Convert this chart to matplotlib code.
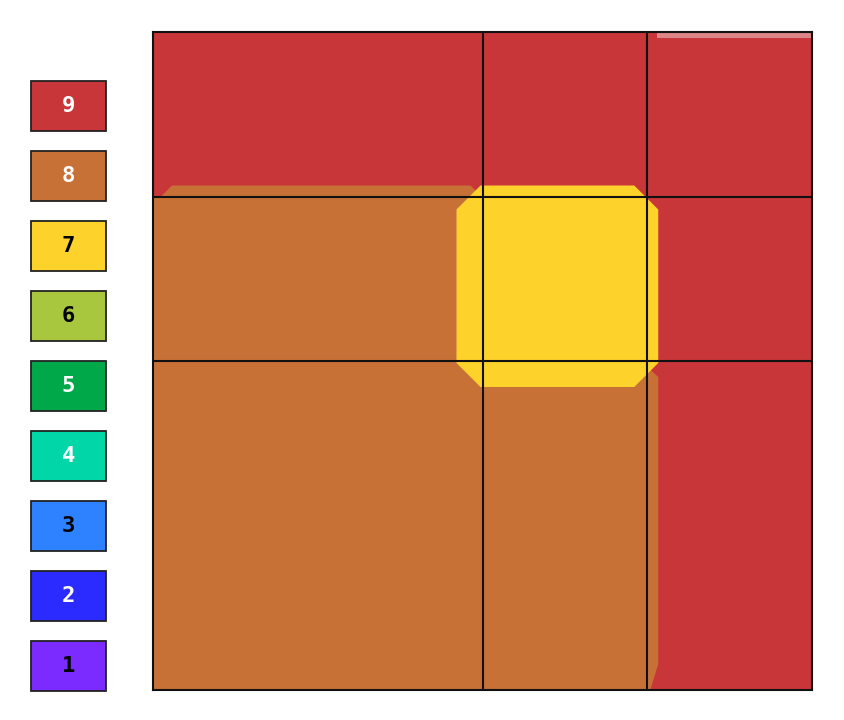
import numpy as np
import matplotlib.pyplot as plt
from matplotlib.colors import ListedColormap, BoundaryNorm
from matplotlib.patches import Polygon, Rectangle

# legend levels and colours
levels = [1, 2, 3, 4, 5, 6, 7, 8, 9]
level_colors = ['#7b2bff', '#2b2bff', '#2e82ff', '#00d6a8', '#00a84a',
                '#a9c73e', '#fdd22b', '#c87137', '#c8363a']
label_colors = ['black', 'white', 'black', 'white', 'white',
                'black', 'black', 'white', 'white']

# uneven grid: column widths and row heights (in grid units)
col_edges = [0, 2, 3, 4]
row_edges = [0, 1, 2, 4]
cell_values = np.array([[9, 9, 9],
                        [8, 7, 9],
                        [8, 8, 9]])

W, H = 844, 720
fig = plt.figure(figsize=(W / 100, H / 100), dpi=100)

def px_axes(x0, y0, x1, y1):
    # axes from pixel box (top-down y)
    return fig.add_axes([x0 / W, 1 - y1 / H, (x1 - x0) / W, (y1 - y0) / H])

cmap = ListedColormap(level_colors)
norm = BoundaryNorm(np.arange(0.5, 10.5, 1), cmap.N)

# ---- main grid ----
ax = px_axes(153, 32, 812, 690)
ax.pcolormesh(col_edges, row_edges, cell_values, cmap=cmap, norm=norm,
              shading='flat', zorder=1)
ax.set_xlim(0, 4)
ax.set_ylim(4, 0)

ux = 4 / 659.0   # grid units per pixel
uy = 4 / 658.0

def bleed(x0, x1, y0, y1, l, r, t, b, c):
    # chamfered patch around a cell, offsets in pixels
    L, R = x0 - l * ux, x1 + r * ux
    T, B = y0 - t * uy, y1 + b * uy
    cx, cy = c * ux, c * uy
    return [(L + cx, T), (R - cx, T), (R, T + cy), (R, B - cy),
            (R - cx, B), (L + cx, B), (L, B - cy), (L, T + cy)]

def col_of(v):
    return level_colors[levels.index(v)]

# orange spill into the red row above and the red column to the right
ax.add_patch(Polygon(bleed(0, 2, 1, 2, -7, 0, 11, -30, 12),
                     closed=True, fc=col_of(8), ec='none', zorder=2))
x3, y2, y4 = col_edges[2], row_edges[2], row_edges[3]
ax.add_patch(Polygon([(x3, y2 + 6 * uy), (x3 + 11 * ux, y2 + 16 * uy),
                      (x3 + 11 * ux, y4 - 26 * uy), (x3 + 3 * ux, y4),
                      (x3, y4)],
                     closed=True, fc=col_of(8), ec='none', zorder=2))
# yellow cell spilling over its neighbours
ax.add_patch(Polygon(bleed(2, 3, 1, 2, 26, 11, 11, 26, 24),
                     closed=True, fc=col_of(7), ec='none', zorder=2))
# faint light strip on the top right cell
ax.add_patch(Rectangle((3 + 10 * ux, 0), 1 - 10 * ux, 6 * uy,
                       fc='white', alpha=0.4, ec='none', zorder=2))

for xe in col_edges[1:-1]:
    ax.axvline(xe, color='#111111', lw=1.5, zorder=3)
for ye in row_edges[1:-1]:
    ax.axhline(ye, color='#111111', lw=1.5, zorder=3)
ax.set_xticks([])
ax.set_yticks([])
for s in ax.spines.values():
    s.set_color('#111111')
    s.set_linewidth(1.5)
    s.set_zorder(4)

# ---- legend column ----
lax = px_axes(31, 71, 106, 701)
lax.set_xlim(0, 1)
lax.set_ylim(0.5, 9.5)
box_h = 50 / 70.0
for v, fc, tc in zip(levels, level_colors, label_colors):
    lax.add_patch(Rectangle((0, v - box_h / 2), 1, box_h, fc=fc,
                            ec='#222222', lw=1.3, clip_on=False))
    lax.text(0.5, v, str(v), ha='center', va='center', color=tc,
             fontsize=16, fontweight='bold', family='DejaVu Sans Mono')
lax.axis('off')

plt.savefig('out.png', dpi=100)
